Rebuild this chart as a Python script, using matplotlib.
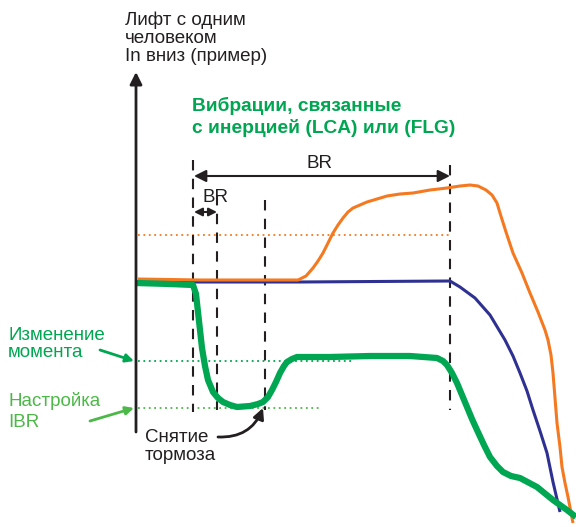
import numpy as np
import matplotlib.pyplot as plt
from matplotlib.patches import FancyArrowPatch

plt.rcParams['font.family'] = ['Liberation Sans', 'DejaVu Sans']

ORANGE = '#f47920'
BLUE = '#2e3192'
GREEN = '#00a651'
LGREEN = '#4cb848'
INK = '#231f20'

# curves (pixel coords, y down)
orange_x = [138, 200, 260, 298, 306, 313, 318, 323, 328, 333, 338, 343, 348, 353, 360, 367, 377, 387,
            400, 413, 430, 447, 460, 470, 478, 486, 492, 497, 500, 506, 513, 522, 530, 538, 545,
            548, 551, 553, 555, 557, 560, 562, 565, 568, 573]
orange_y = [279, 280, 280, 280, 276, 268, 261, 253, 243, 233, 225, 218, 212, 208, 205, 202, 199, 196,
            194, 193, 190, 188, 186, 185, 186, 190, 195, 203, 213, 232, 253, 273, 293, 312, 330,
            340, 355, 373, 398, 423, 447, 467, 483, 497, 523]

blue_x = [136, 300, 450, 460, 475, 490, 505, 513, 520, 527, 533, 540, 547, 553, 560]
blue_y = [282, 282, 281, 287, 298, 315, 340, 356, 373, 391, 410, 431, 453, 482, 512]

green_x = [136, 170, 193, 196, 198, 200, 202, 205, 208, 213, 218, 223, 230, 237, 250, 258, 263, 268,
           272, 276, 280, 284, 287, 292, 297, 313, 330, 370, 410, 437, 443, 447, 452, 457, 462, 467,
           472, 477, 484, 490, 497, 503, 511, 520, 537, 553, 567, 576]
green_y = [283, 284, 285, 294, 312, 330, 348, 366, 380, 392, 398, 402, 405, 407, 406, 404, 402, 397,
           390, 382, 373, 366, 362, 359, 357, 357, 357, 356, 356, 358, 361, 365, 373, 383, 395, 407,
           419, 430, 445, 457, 466, 472, 476, 478, 487, 500, 510, 517]

# reference levels
orange_level = 235
torque_level = 361
ibr_level = 408

# dashed markers: x, top, bottom
marks_x = [193, 217, 265, 450]
marks_top = [160, 195, 200, 165]
marks_bot = [412, 410, 410, 410]

fig = plt.figure(figsize=(5.76, 5.27), dpi=100)
ax = fig.add_axes([0, 0, 1, 1])
ax.set_xlim(0, 576)
ax.set_ylim(527, 0)
ax.axis('off')

# y axis
ax.annotate('', xy=(136, 72), xytext=(136, 432),
            arrowprops=dict(arrowstyle='-|>', color=INK, lw=2, mutation_scale=18, shrinkA=0, shrinkB=0))

ax.plot([138, 450], [orange_level] * 2, color=ORANGE, lw=1.3, ls=(0, (1, 2)))
ax.plot([138, 352], [torque_level] * 2, color=GREEN, lw=1.3, ls=(0, (1, 2)))
ax.plot([138, 320], [ibr_level] * 2, color=LGREEN, lw=1.3, ls=(0, (1, 2)))

for x, t, b in zip(marks_x, marks_top, marks_bot):
    ax.plot([x, x], [t, b], color=INK, lw=1.5, ls=(0, (5, 4)))

ax.plot(blue_x, blue_y, color=BLUE, lw=2.2, solid_capstyle='butt', solid_joinstyle='round')
ax.plot(orange_x, orange_y, color=ORANGE, lw=2.2, solid_capstyle='butt', solid_joinstyle='round')
ax.plot(green_x, green_y, color=GREEN, lw=4.5, solid_capstyle='butt', solid_joinstyle='round')

# BR arrows
ax.add_patch(FancyArrowPatch((194, 176), (450, 176), arrowstyle='<|-|>', mutation_scale=18,
                             color=INK, lw=1.5, shrinkA=0, shrinkB=0))
ax.text(320, 168, 'BR', fontsize=13.5, ha='center', va='baseline', color=INK)
ax.add_patch(FancyArrowPatch((194, 212), (217, 212), arrowstyle='<|-|>', mutation_scale=12,
                             color=INK, lw=1.5, shrinkA=0, shrinkB=0))
ax.text(215, 202, 'BR', fontsize=13.5, ha='center', va='baseline', color=INK)

# texts (y = baseline of last line)
ax.text(125, 61, 'Лифт с одним\nчеловеком\nIn вниз (пример)', fontsize=13.5, color=INK,
        va='baseline', linespacing=1.06)
ax.text(192, 133, 'Вибрации, связанные\nс инерцией (LCA) или (FLG)', fontsize=13.8, color=GREEN,
        fontweight='bold', va='baseline', linespacing=1.28)
ax.text(8, 357, 'Изменение\nмомента', fontsize=13.5, color=GREEN, va='baseline', linespacing=1.02)
ax.text(8, 427, 'Настройка\nIBR', fontsize=13.5, color=LGREEN, va='baseline', linespacing=1.33)
ax.text(145, 460, 'Снятие\nтормоза', fontsize=13.5, color=INK, va='baseline', linespacing=1.06)

ax.annotate('', xy=(134, 361), xytext=(100, 350),
            arrowprops=dict(arrowstyle='-|>', color=GREEN, lw=2, mutation_scale=12, shrinkA=0, shrinkB=0))
ax.annotate('', xy=(134, 408), xytext=(90, 421),
            arrowprops=dict(arrowstyle='-|>', color=LGREEN, lw=2, mutation_scale=12, shrinkA=0, shrinkB=0))
ax.annotate('', xy=(263, 408), xytext=(218, 437),
            arrowprops=dict(arrowstyle='-|>', color=INK, lw=2, mutation_scale=16, shrinkA=0, shrinkB=0,
                            connectionstyle='arc3,rad=0.35'))

fig.savefig('out.png', dpi=100)
